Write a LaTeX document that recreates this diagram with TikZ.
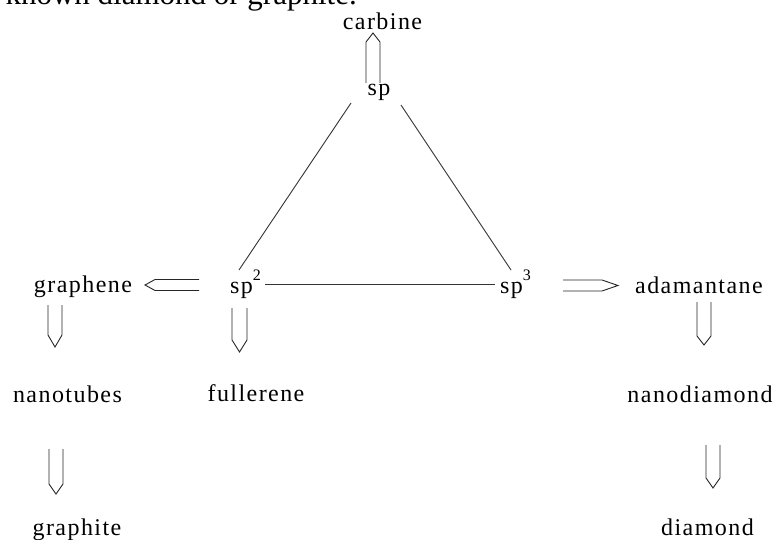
\documentclass[tikz,border=0pt]{standalone}
\usepackage{fontspec}
\setmainfont{Liberation Serif}[LetterSpace=6]
\newfontfamily\topfont{Liberation Serif}
\usetikzlibrary{calc}
\newcommand\mysup[1]{\raisebox{13pt}{\fontsize{16}{16}\selectfont #1}}
\tikzset{
  dw/.store in=\dw, dh/.store in=\dh, dw=7pt, dh=10pt,
  lbl/.style={font=\fontsize{24}{28}\selectfont, inner sep=0pt, anchor=base, text=black},
  bond/.style={draw=black!80, line width=0.9pt},
  dbl/.style={draw=black!85, line width=0.9pt, line join=miter,
    to path={
      ($(\tikztostart)!\dw!90:(\tikztotarget)$)
      -- ($(\tikztotarget)!\dh!(\tikztostart)!\dw!90:(\tikztotarget)$)
      -- (\tikztotarget)
      -- ($(\tikztotarget)!\dh!(\tikztostart)!\dw!-90:(\tikztotarget)$)
      -- ($(\tikztostart)!\dw!-90:(\tikztotarget)$)
    }}
}
\begin{document}
\begin{tikzpicture}[x=1pt,y=-1pt]
\useasboundingbox (0,0) rectangle (776,540);
\fill[white] (0,0) rectangle (776,540);
\begin{scope}
  \clip (0,0) rectangle (776,540);
  \node[font=\topfont\fontsize{31}{31}\selectfont, inner sep=0pt, anchor=base east] (head) at (357,5) {known diamond or graphite.};
\end{scope}

\node[lbl] (carbine) at (382.5,30) {carbine};
\node[lbl] (sp) at (379,96) {sp};
\node[lbl, anchor=base west] (sp2) at (230,293) {sp\mysup{2}};
\node[lbl, anchor=base west] (sp3) at (500,293) {sp\mysup{3}};
\node[lbl] (graphene) at (83,292) {graphene};
\node[lbl] (adamantane) at (699,293) {adamantane};
\node[lbl] (nanotubes) at (67.5,402) {nanotubes};
\node[lbl] (fullerene) at (256,401) {fullerene};
\node[lbl] (nanodiamond) at (700,402) {nanodiamond};
\node[lbl] (graphite) at (77,535) {graphite};
\node[lbl] (diamond) at (707.5,535) {diamond};

% bonds of the triangle
\draw[bond] ([xshift=-28pt,yshift=-7pt]sp.base) -- ([xshift=9pt,yshift=23pt]sp2.base west);
\draw[bond] ([xshift=22pt,yshift=-9pt]sp.base) -- ([xshift=11pt,yshift=23pt]sp3.base west);
\draw[bond] ([xshift=35pt,yshift=9pt]sp2.base west) -- ([xshift=-5pt,yshift=9pt]sp3.base west);

% double arrows
\draw[dbl, dw=7pt, dh=9pt] ([xshift=-6pt,yshift=13pt]sp.base) to ([xshift=-9.5pt,yshift=-3pt]carbine.base);
\draw[dbl, dw=5.5pt, dh=10pt] ([xshift=-31pt,yshift=8pt]sp2.base west) to ([xshift=62pt,yshift=7pt]graphene.base);
\draw[dbl, dw=7pt, dh=12pt] ([xshift=-28pt,yshift=-13pt]graphene.base) to ([xshift=-12.5pt,yshift=55pt]nanotubes.base);
\draw[dbl, dw=7.5pt, dh=12pt] ([xshift=9.5pt,yshift=-15pt]sp2.base west) to ([xshift=-16.5pt,yshift=49pt]fullerene.base);
\draw[dbl, dw=7pt, dh=10pt] ([xshift=-11.5pt,yshift=-47pt]nanotubes.base) to ([xshift=-21pt,yshift=41pt]graphite.base);
\draw[dbl, dw=5.5pt, dh=16pt] ([xshift=63pt,yshift=7.5pt]sp3.base west) to ([xshift=-81pt,yshift=7.5pt]adamantane.base);
\draw[dbl, dw=7pt, dh=9pt] ([xshift=5pt,yshift=-9pt]adamantane.base) to ([xshift=4pt,yshift=57pt]nanodiamond.base);
\draw[dbl, dw=7pt, dh=10pt] ([xshift=13pt,yshift=-43pt]nanodiamond.base) to ([xshift=5.5pt,yshift=47pt]diamond.base);
\end{tikzpicture}
\end{document}
